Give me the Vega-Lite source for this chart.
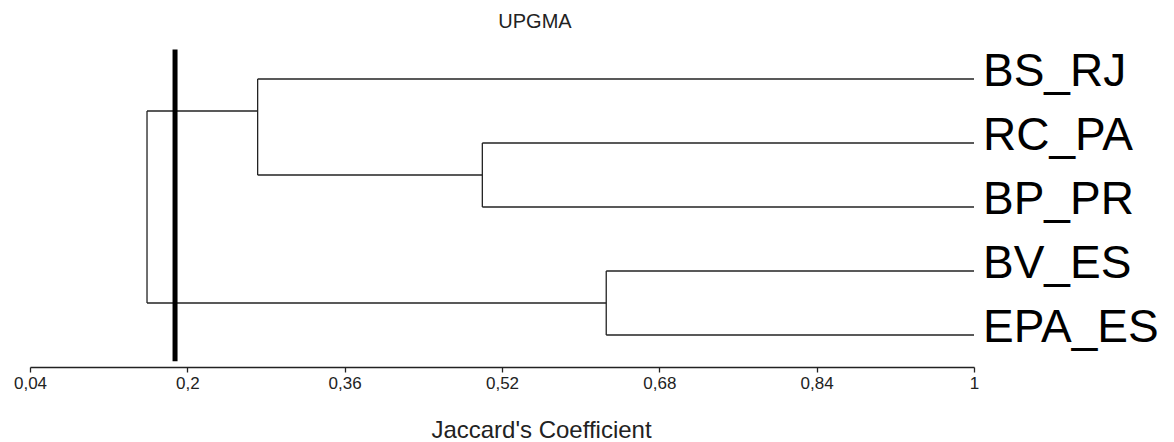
{
  "$schema": "https://vega.github.io/schema/vega-lite/v6.json",
  "width": 944,
  "height": 352,
  "autosize": "none",
  "padding": {"left": 30, "top": 15, "right": 200, "bottom": 75},
  "background": "white",
  "config": {"view": {"stroke": null}},
  "title": {
    "text": "UPGMA",
    "font": "Liberation Sans",
    "fontSize": 20,
    "fontWeight": "normal",
    "color": "#222",
    "anchor": "middle",
    "baseline": "alphabetic",
    "offset": 0,
    "dx": 33,
    "dy": 33
  },
  "datasets": {
    "segments": [
      {"x": 0.2715, "x2": 1, "y": 1, "y2": 1},
      {"x": 0.5, "x2": 1, "y": 2, "y2": 2},
      {"x": 0.5, "x2": 1, "y": 3, "y2": 3},
      {"x": 0.626, "x2": 1, "y": 4, "y2": 4},
      {"x": 0.626, "x2": 1, "y": 5, "y2": 5},
      {"x": 0.2715, "x2": 0.5, "y": 2.5, "y2": 2.5},
      {"x": 0.159, "x2": 0.2715, "y": 1.5, "y2": 1.5},
      {"x": 0.159, "x2": 0.626, "y": 4.5, "y2": 4.5},
      {"x": 0.5, "x2": 0.5, "y": 2, "y2": 3},
      {"x": 0.2715, "x2": 0.2715, "y": 1, "y2": 2.5},
      {"x": 0.626, "x2": 0.626, "y": 4, "y2": 5},
      {"x": 0.159, "x2": 0.159, "y": 1.5, "y2": 4.5}
    ],
    "cut": [{"x": 0.1875, "y": 0.54, "y2": 5.41}],
    "leaves": [
      {"name": "BS_RJ", "x": 1, "y": 1},
      {"name": "RC_PA", "x": 1, "y": 2},
      {"name": "BP_PR", "x": 1, "y": 3},
      {"name": "BV_ES", "x": 1, "y": 4},
      {"name": "EPA_ES", "x": 1, "y": 5}
    ]
  },
  "layer": [
    {
      "data": {"name": "segments"},
      "mark": {"type": "rule", "color": "#222", "strokeWidth": 1.3},
      "encoding": {
        "x": {
          "field": "x",
          "type": "quantitative",
          "scale": {"domain": [0.04, 1], "nice": false, "zero": false},
          "axis": {
            "title": "Jaccard's Coefficient",
            "values": [0.04, 0.2, 0.36, 0.52, 0.68, 0.84, 1],
            "labelExpr": "replace(format(datum.value, '.2~f'), '.', ',')",
            "grid": false,
            "domainColor": "#222",
            "domainWidth": 1.3,
            "tickColor": "#222",
            "tickWidth": 1.3,
            "tickSize": 5,
            "labelPadding": 3,
            "labelFont": "Liberation Sans",
            "labelFontSize": 17,
            "labelColor": "#222",
            "labelFlush": false,
            "labelOverlap": false,
            "titleFont": "Liberation Sans",
            "titleFontSize": 24,
            "titleFontWeight": "normal",
            "titleColor": "#222",
            "titleBaseline": "alphabetic",
            "titleAlign": "center",
            "titleX": 511,
            "titleY": 70
          }
        },
        "x2": {"field": "x2"},
        "y": {
          "field": "y",
          "type": "quantitative",
          "scale": {"domain": [0, 5.5], "reverse": true, "nice": false, "zero": false},
          "axis": null
        },
        "y2": {"field": "y2"}
      }
    },
    {
      "data": {"name": "cut"},
      "mark": {"type": "rule", "color": "black", "strokeWidth": 5},
      "encoding": {
        "x": {"field": "x", "type": "quantitative"},
        "y": {"field": "y", "type": "quantitative"},
        "y2": {"field": "y2"}
      }
    },
    {
      "data": {"name": "leaves"},
      "mark": {
        "type": "text",
        "align": "left",
        "baseline": "alphabetic",
        "dx": 9,
        "dy": 7,
        "font": "Liberation Sans",
        "fontSize": 46,
        "color": "black"
      },
      "encoding": {
        "x": {"field": "x", "type": "quantitative"},
        "y": {"field": "y", "type": "quantitative"},
        "text": {"field": "name"}
      }
    }
  ]
}
